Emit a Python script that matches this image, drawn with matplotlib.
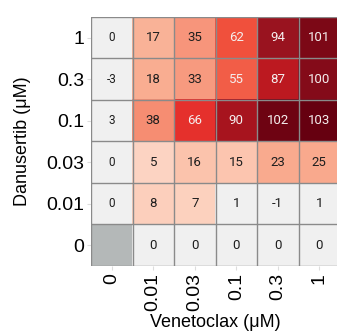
import matplotlib
matplotlib.use("Agg")
import matplotlib.pyplot as plt
import numpy as np
from matplotlib.colors import LinearSegmentedColormap, Normalize

# concentrations (uM)
venetoclax = ["0", "0.01", "0.03", "0.1", "0.3", "1"]
danusertib = ["1", "0.3", "0.1", "0.03", "0.01", "0"]   # top to bottom

# % inhibition values, rows follow danusertib order
row_1 = [0, 17, 35, 62, 94, 101]
row_03 = [-3, 18, 33, 55, 87, 100]
row_01 = [3, 38, 66, 90, 102, 103]
row_003 = [0, 5, 16, 15, 23, 25]
row_001 = [0, 8, 7, 1, -1, 1]
row_0 = [np.nan, 0, 0, 0, 0, 0]

vals = np.array([row_1, row_03, row_01, row_003, row_001, row_0], dtype=float)

# colour scale
lo, hi = 4, 103
anchors = [(4, "#fdd5c4"), (16, "#fcc4ad"), (17, "#f9ae92"), (25, "#f9a98d"),
           (36, "#f7947a"), (40, "#f6866a"), (55, "#f25d47"), (62, "#f0503c"),
           (66, "#e6312d"), (87, "#bd1a21"), (90, "#a8151e"), (94, "#9a1420"),
           (100, "#880d1a"), (103, "#660010")]
cmap = LinearSegmentedColormap.from_list(
    "inh", [((v - lo) / (hi - lo), c) for v, c in anchors])
cmap.set_under("#f0f0f0")
cmap.set_bad("#b4b8b8")

fig = plt.figure(figsize=(3.37, 3.34), dpi=100)
ax = fig.add_axes([91/337, 1-266/334, 249/337, 249/334])

ax.imshow(np.ma.masked_invalid(vals), cmap=cmap, norm=Normalize(lo, hi),
          aspect="auto", interpolation="nearest")

for i in range(vals.shape[0]):
    for j in range(vals.shape[1]):
        v = vals[i, j]
        if np.isnan(v):
            continue
        col = "#f5eeee" if v >= 50 else "#1e1e1e"
        fs = 8.5 if j == 0 else 9.5
        ax.text(j, i, "%d" % v, ha="center", va="center", color=col,
                fontsize=fs, family="Roboto")

# cell borders
for k in range(vals.shape[1] + 1):
    ax.axvline(k - 0.5, color="#8a8a8a", lw=1)
for k in range(vals.shape[0] + 1):
    ax.axhline(k - 0.5, color="#8a8a8a", lw=1)

ax.set_xlim(-0.5, 5.5)
ax.set_ylim(5.5, -0.5)
ax.set_xticks(range(6))
ax.set_xticklabels(venetoclax, rotation=90, fontsize=14, family="Liberation Sans")
ax.set_yticks(range(6))
ax.set_yticklabels(danusertib, fontsize=14, family="Liberation Sans")
ax.tick_params(length=3, color="#dddddd", pad=2)
for s in ax.spines.values():
    s.set_visible(False)

ax.set_xlabel("Venetoclax (μM)", fontsize=13, family="Liberation Sans", labelpad=2)
ax.set_ylabel("Danusertib (μM)", fontsize=13, family="Liberation Sans", labelpad=11)

fig.savefig("out.png", dpi=100)
